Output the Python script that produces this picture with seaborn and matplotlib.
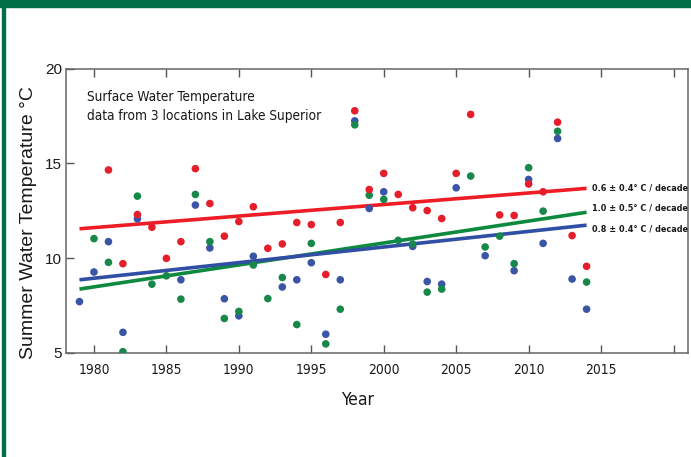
import numpy as np
import pandas as pd
import matplotlib
matplotlib.use("Agg")
import matplotlib.pyplot as plt
from matplotlib import font_manager as fm
from matplotlib.patches import Rectangle
import seaborn as sns

# ── data ──
years = list(range(1979, 2015))
nan = np.nan
red_vals = [nan, nan, 14.65, 9.71, 12.30, 11.63, 9.99, 10.87, 14.72, 12.88,
            11.16, 11.93, 12.71, 10.52, 10.75, 11.88, 11.77, 9.14, 11.88, 17.77,
            13.62, 14.47, 13.36, 12.66, 12.51, 12.09, 14.47, 17.58, nan, 12.28,
            12.25, 13.91, 13.50, 17.17, 11.19, 9.57]
green_vals = [nan, 11.03, 9.78, 5.07, 13.27, 8.63, 9.07, 7.84, 13.36, 10.87,
              6.82, 7.19, 9.64, 7.87, 8.98, 6.50, 10.78, 5.48, 7.31, 17.03,
              13.32, 13.10, 10.94, 10.75, 8.21, 8.37, nan, 14.33, 10.59, 11.16,
              9.71, 14.77, 12.48, 16.69, nan, 8.74]
blue_vals = [7.71, 9.27, 10.87, 6.09, 12.07, nan, nan, 8.86, 12.80, 10.54,
             7.86, 6.96, 10.10, nan, 8.48, 8.86, 9.76, 5.99, 8.86, 17.24,
             12.62, 13.50, nan, 10.62, 8.77, 8.63, 13.71, nan, 10.13, nan,
             9.34, 14.15, 10.78, 16.31, 8.90, 7.31]

# trend lines (value at first / last year)
trend_years = [1979, 2014]
red_trend = [11.55, 13.68]
green_trend = [8.37, 12.42]
blue_trend = [8.86, 11.74]
trend_labels = ["0.6 \u00b1 0.4\u00b0 C / decade",
                "1.0 \u00b1 0.5\u00b0 C / decade",
                "0.8 \u00b1 0.4\u00b0 C / decade"]

x_ticks = [1980, 1985, 1990, 1995, 2000, 2005, 2010, 2015, 2020]
x_ticklabels = ["1980", "1985", "1990", "1995", "2000", "2005", "2010", "2015", ""]
y_ticks = [5, 10, 15, 20]

pts_color = {"blue": "#3b55a6", "green": "#17884a", "red": "#e41e2b"}
line_color = {"red": "#ee1c24", "green": "#0d8a3e", "blue": "#2f4ea4"}

sns.set_theme(style="white")
REGULAR = ["Liberation Sans", "DejaVu Sans"]
plt.rcParams["font.family"] = REGULAR

# narrow face for the small texts: Liberation Narrow, else DejaVu condensed
names = {f.name for f in fm.fontManager.ttflist}
if "Liberation Sans Narrow" in names:
    NARROW = dict(family=["Liberation Sans Narrow", "DejaVu Sans"])
    sz = dict(note=8.2, inset=12, tick=11, xlab=14)
elif any(f.name == "DejaVu Sans" and f.stretch == "condensed" for f in fm.fontManager.ttflist):
    NARROW = dict(family=["DejaVu Sans"], fontstretch="condensed")
    sz = dict(note=6.5, inset=9.8, tick=9.9, xlab=12.6)
else:
    NARROW = dict(family=REGULAR)
    sz = dict(note=6.8, inset=9.8, tick=9, xlab=11.5)

df = pd.DataFrame({
    "year": years * 3,
    "temp": blue_vals + green_vals + red_vals,
    "site": ["blue"] * len(years) + ["green"] * len(years) + ["red"] * len(years),
}).dropna()

fig = plt.figure(figsize=(6.91, 4.57), dpi=100)
ax = fig.add_axes([66 / 691, 104 / 457, 622 / 691, 284.5 / 457])

# trend lines
for name, vals in (("red", red_trend), ("green", green_trend), ("blue", blue_trend)):
    ax.plot(trend_years, vals, color=line_color[name], lw=2.6, zorder=2,
            solid_capstyle="butt")

sns.scatterplot(data=df, x="year", y="temp", hue="site", palette=pts_color,
                hue_order=["blue", "green", "red"], s=30, linewidth=0,
                legend=False, ax=ax, zorder=3)

# labels at the line ends, green/blue pushed apart a little
for vals, lab, dy in zip((red_trend, green_trend, blue_trend), trend_labels,
                         (0, 3, -3)):
    ax.annotate(lab, (trend_years[1], vals[1]), xytext=(4, dy),
                textcoords="offset points", ha="left", va="center",
                fontsize=sz["note"], fontweight="bold", color="#1a1a1a", **NARROW)

ax.text(0.033, 0.925, "Surface Water Temperature\ndata from 3 locations in Lake Superior",
        transform=ax.transAxes, ha="left", va="top", fontsize=sz["inset"],
        color="#1a1a1a", linespacing=1.5, **NARROW)

ax.set_xlim(1978.07, 2021.0)
ax.set_ylim(5, 20)
ax.set_xticks(x_ticks)
ax.set_xticklabels(x_ticklabels, fontsize=sz["tick"], **NARROW)
ax.set_yticks(y_ticks)
ax.set_yticklabels([str(v) for v in y_ticks], fontsize=11)
ax.tick_params(axis="both", direction="in", length=6, width=1, color="#555555",
               top=True, bottom=True, left=True, right=False, labelcolor="#1a1a1a")
ax.tick_params(axis="x", pad=7)
ax.tick_params(axis="y", pad=3)
for sp in ax.spines.values():
    sp.set_color("#666666")
    sp.set_linewidth(1.1)

ax.set_xlabel("Year", fontsize=sz["xlab"], color="#1a1a1a", **NARROW)
ax.set_ylabel("Summer Water Temperature \u00b0C", fontsize=14, color="#1a1a1a")
ax.xaxis.set_label_coords(0.468, -0.135)
ax.yaxis.set_label_coords(-0.047, 0.46)

# green frame of the page
fig.patches.append(Rectangle((0, 1 - 7 / 457), 1, 7 / 457, transform=fig.transFigure,
                             color="#007047", zorder=0))
fig.patches.append(Rectangle((2 / 691, 0), 3 / 691, 1, transform=fig.transFigure,
                             color="#007047", zorder=0))

fig.savefig("out.png", dpi=100, facecolor="white")
